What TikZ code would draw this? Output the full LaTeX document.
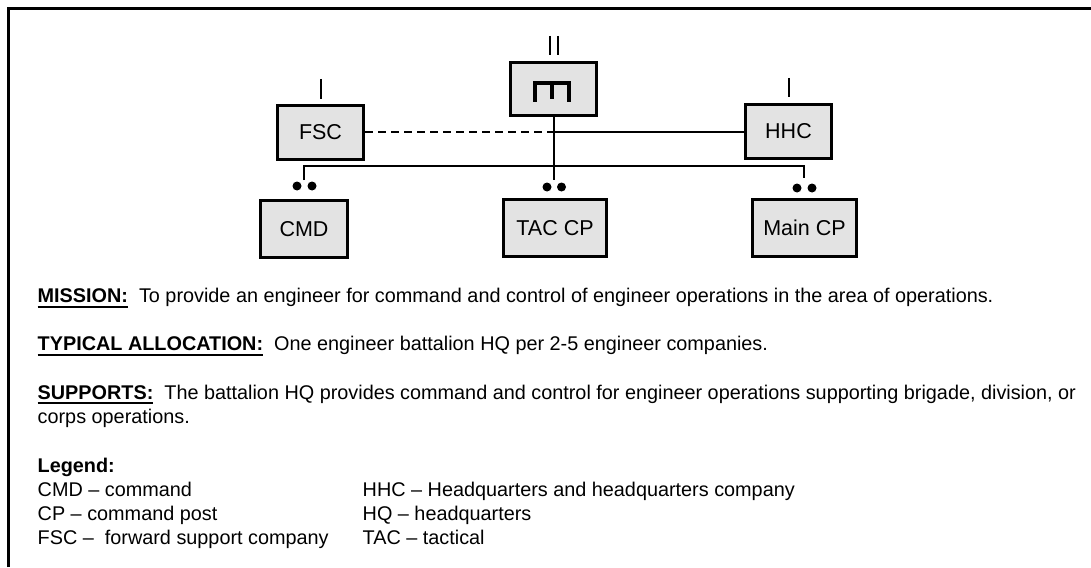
\documentclass[tikz,border=0pt]{standalone}
\usepackage{fontspec}
\setmainfont{Liberation Sans}
\tikzset{
  x=1pt,y=-1pt,
  unit/.style={draw=black,line width=3.2pt,fill=black!11,inner sep=0pt,font=\fontsize{21.5}{24}\selectfont},
  link/.style={draw=black,line width=1.7pt},
  txt/.style={anchor=base west,inner sep=0pt,font=\fontsize{19.83}{22}\selectfont},
  pip/.style={fill=black,draw=none,circle,minimum size=9pt,inner sep=0pt},
  tick/.style={draw=black,line width=2.2pt}
}
\newlength{\headw}
\newcommand{\heading}[1]{\settowidth{\headw}{\textbf{#1}}\rlap{\rule[-5.2pt]{\headw}{2pt}}\textbf{#1}}
\begin{document}
\begin{tikzpicture}
\useasboundingbox (0,0) rectangle (1091,567);
\draw[line width=3pt] (8,567) -- (8,9) -- (1091,9);
% units
\node[unit,minimum width=86pt,minimum height=54pt] (fsc) at (320.5,132.5) {FSC};
\node[unit,minimum width=86pt,minimum height=53pt] (bn) at (553.5,89) {};
\node[unit,minimum width=86pt,minimum height=54pt] (hhc) at (788.5,131.5) {HHC};
\node[unit,minimum width=87pt,minimum height=57pt] (cmd) at (304,229) {CMD};
\node[unit,minimum width=103pt,minimum height=57pt] (tac) at (555,228) {TAC CP};
\node[unit,minimum width=104pt,minimum height=57pt] (main) at (804.5,228) {Main CP};
% engineer symbol
\draw[line width=4.4pt] (535,102) -- (535,83) -- (569,83) -- (569,102);
\draw[line width=4.4pt] (552,83) -- (552,99);
% echelon ticks
\coordinate (t1a) at (321,79); \coordinate (t1b) at (321,99);
\draw[tick] (t1a) -- (t1b);
\coordinate (t2a) at (550,36); \coordinate (t2b) at (550,55);
\draw[tick] (t2a) -- (t2b);
\coordinate (t2c) at (558,36); \coordinate (t2d) at (558,55);
\draw[tick] (t2c) -- (t2d);
\coordinate (t3a) at (789,78); \coordinate (t3b) at (789,97);
\draw[tick] (t3a) -- (t3b);
% connectors
\coordinate (j) at (553.9,132);
\coordinate (tacend) at (553.9,180);
\coordinate (cmdend) at (304,180);
\coordinate (mainend) at (804,178);
\coordinate (busl) at (304,166);
\coordinate (busr) at (804,166);
\draw[link] (bn.south -| j) -- (tacend);
\draw[link] (j) -- (hhc.west |- j);
\draw[link,dash pattern=on 8pt off 5pt] (fsc.east |- j) -- (j);
\draw[link] (cmdend) -- (busl) -- (busr) -- (mainend);
% pips
\node[pip] (c1) at (297,186) {}; \node[pip] (c2) at (312,186) {};
\node[pip] (t1) at (547,187) {}; \node[pip] (t2) at (561.5,187) {};
\node[pip] (m1) at (797,188) {}; \node[pip] (m2) at (812,188) {};
% text
\node[txt] (l1) at (37.5,302.7) {\heading{MISSION:}\ \ To provide an engineer for command and control of engineer operations in the area of operations.};
\node[txt] (l2) at (37.5,350.7) {\heading{TYPICAL ALLOCATION:}\ \ One engineer battalion HQ per 2-5 engineer companies.};
\node[txt] (l3) at (37.5,399) {\heading{SUPPORTS:}\ \ The battalion HQ provides command and control for engineer operations supporting brigade, division, or};
\node[txt] (l4) at (37.5,423) {corps operations.};
\node[txt] (l5) at (37.5,472) {\textbf{Legend:}};
\node[txt] (l6) at (37.5,496) {CMD – command};
\node[txt] (l7) at (37.5,520) {CP – command post};
\node[txt] (l8) at (37.5,544) {FSC –\ \ forward support company};
\node[txt] (r6) at (362.5,496) {HHC – Headquarters and headquarters company};
\node[txt] (r7) at (362.5,520) {HQ – headquarters};
\node[txt] (r8) at (362.5,544) {TAC – tactical};
\end{tikzpicture}
\end{document}
